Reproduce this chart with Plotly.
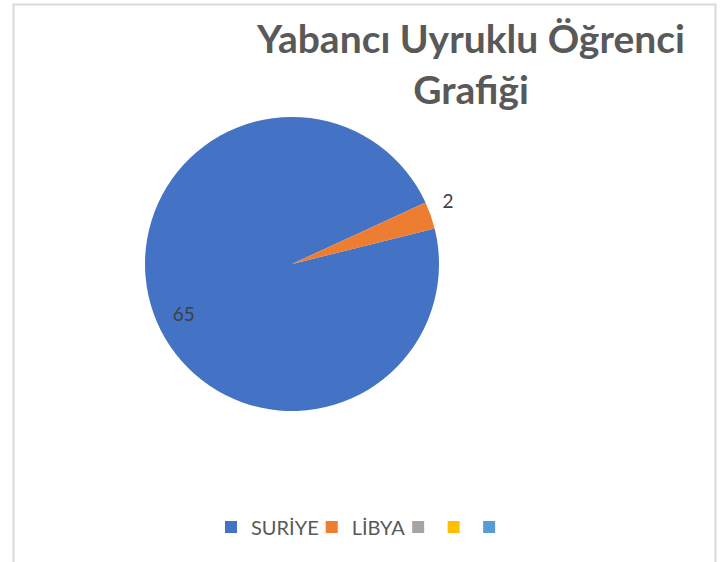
import plotly.graph_objects as go

labels = ["SURİYE", "LİBYA", "\u2009", "\u2009\u200b", "\u2009\u200b\u200b"]
values = [65, 2, 0, 0, 0]
colors = ["#4472C4", "#ED7D31", "#A5A5A5", "#FFC000", "#5B9BD5"]
title_text = "Yabancı Uyruklu Öğrenci<br>Grafiği"

W, H = 726, 562
cx, cy, r = 292, 264, 147
NB = "\u00a0"

fig = go.Figure(go.Pie(
    labels=labels,
    values=values,
    sort=False,
    direction="clockwise",
    rotation=76,
    marker=dict(colors=colors, line=dict(color="white", width=0)),
    texttemplate=[NB + "<br>" + NB + "<br>%{value}" + NB * 16, "%{value}<br>" + NB, "", "", ""],
    textposition=["inside", "outside", "none", "none", "none"],
    insidetextorientation="horizontal",
    textfont=dict(family="Lato, Open Sans, sans-serif", size=19, color="#404040"),
    domain=dict(x=[(cx - r) / W, (cx + r) / W], y=[(H - cy - r) / H, (H - cy + r) / H]),
    hoverinfo="label+value",
    showlegend=True,
))

fig.update_layout(
    width=W, height=H,
    margin=dict(l=0, r=0, t=0, b=0),
    paper_bgcolor="white",
    plot_bgcolor="white",
    title=dict(
        text="<b>" + title_text + "</b>",
        x=471 / W, xanchor="center",
        y=1 - 53 / H, yanchor="top",
        font=dict(family="Lato, Open Sans, sans-serif", size=39, color="#595959"),
    ),
    legend=dict(
        orientation="h",
        x=370 / W, xanchor="center",
        y=1 - 527 / H, yanchor="middle",
        font=dict(family="Lato, Open Sans, sans-serif", size=20, color="#595959"),
        itemwidth=30,
        indentation=-12,
        traceorder="normal",
    ),
    shapes=[dict(
        type="rect", xref="paper", yref="paper",
        x0=13.5 / W, x1=715.5 / W, y0=-0.05, y1=1 - 4.5 / H,
        line=dict(color="#D9D9D9", width=2), fillcolor="rgba(0,0,0,0)", layer="below",
    )],
)

fig.write_html("out.html", config={"displayModeBar": False},
               post_script="document.body.style.margin='0';")
